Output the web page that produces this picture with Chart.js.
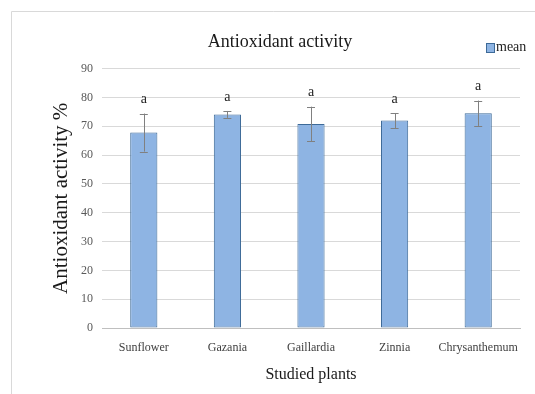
<!DOCTYPE html>
<html>
<head>
<meta charset="utf-8">
<script src="https://cdn.jsdelivr.net/npm/chart.js@4.4.1/dist/chart.umd.min.js"></script>
<style>
  html, body { margin: 0; padding: 0; background: #ffffff; }
  #wrap { position: relative; width: 535px; height: 394px; }
</style>
</head>
<body>
<div id="wrap"><canvas id="chart" width="535" height="394"></canvas></div>
<script>
// Studied plants and their mean antioxidant activity (%)
const plants = ['Sunflower', 'Gazania', 'Gaillardia', 'Zinnia', 'Chrysanthemum'];
const meanActivity = [67.8, 74.1, 70.8, 72.0, 74.5];
const errorActivity = [6.6, 1.2, 6.0, 2.6, 4.4];
const groupLetters = ['a', 'a', 'a', 'a', 'a'];
const seriesName = 'mean';

const FONT = '"Liberation Serif", "Times New Roman", serif';
const BAR_FILL = '#8eb4e3';
const BAR_EDGE = '#3d6a98';

// Light frame around the chart
const framePlugin = {
  id: 'frame',
  beforeDraw(chart) {
    const ctx = chart.ctx;
    ctx.save();
    ctx.strokeStyle = '#d9d9d9';
    ctx.lineWidth = 1;
    ctx.beginPath();
    ctx.moveTo(11.5, 394);
    ctx.lineTo(11.5, 11.5);
    ctx.lineTo(535, 11.5);
    ctx.stroke();
    ctx.restore();
  }
};

// Error whiskers and significance letters, placed through the scales
const errorPlugin = {
  id: 'errorBars',
  afterDatasetsDraw(chart) {
    const ctx = chart.ctx;
    const yScale = chart.scales.y;
    const meta = chart.getDatasetMeta(0);
    ctx.save();
    meta.data.forEach((bar, i) => {
      const x = bar.x;
      const yTop = yScale.getPixelForValue(meanActivity[i] + errorActivity[i]);
      const yBot = yScale.getPixelForValue(meanActivity[i] - errorActivity[i]);
      ctx.strokeStyle = '#808080';
      ctx.lineWidth = 1;
      ctx.beginPath();
      ctx.moveTo(Math.round(x) + 0.5, yTop);
      ctx.lineTo(Math.round(x) + 0.5, yBot);
      ctx.moveTo(x - 4, Math.round(yTop) + 0.5);
      ctx.lineTo(x + 4, Math.round(yTop) + 0.5);
      ctx.moveTo(x - 4, Math.round(yBot) + 0.5);
      ctx.lineTo(x + 4, Math.round(yBot) + 0.5);
      ctx.stroke();

      ctx.fillStyle = '#222222';
      ctx.font = '14px ' + FONT;
      ctx.textAlign = 'center';
      ctx.textBaseline = 'middle';
      ctx.fillText(groupLetters[i], x, yTop - 14);
    });
    ctx.restore();
  }
};

// Legend entry in the upper right corner
const legendPlugin = {
  id: 'cornerLegend',
  afterDraw(chart) {
    const ctx = chart.ctx;
    const ds = chart.data.datasets[0];
    ctx.save();
    ctx.fillStyle = ds.backgroundColor;
    ctx.fillRect(486, 43, 8, 9);
    ctx.strokeStyle = ds.borderColor;
    ctx.lineWidth = 1;
    ctx.strokeRect(486.5, 43.5, 8, 9);
    ctx.fillStyle = '#222222';
    ctx.font = '14px ' + FONT;
    ctx.textAlign = 'left';
    ctx.textBaseline = 'middle';
    ctx.fillText(ds.label, 496, 47);
    ctx.restore();
  }
};

new Chart(document.getElementById('chart'), {
  type: 'bar',
  data: {
    labels: plants,
    datasets: [{
      label: seriesName,
      data: meanActivity,
      backgroundColor: BAR_FILL,
      borderColor: BAR_EDGE,
      borderWidth: 1,
      borderSkipped: false,
      barPercentage: 1,
      categoryPercentage: 0.325
    }]
  },
  options: {
    responsive: false,
    animation: false,
    layout: { padding: { left: 40, right: 15, top: 0, bottom: 0 } },
    plugins: {
      legend: { display: false },
      tooltip: { enabled: false },
      title: {
        display: true,
        text: 'Antioxidant activity',
        color: '#1a1a1a',
        font: { family: FONT, size: 18, weight: 'normal' },
        padding: { top: 31, bottom: 16 }
      }
    },
    scales: {
      x: {
        grid: { display: false, drawTicks: false },
        border: { display: true, color: '#bfbfbf' },
        ticks: {
          color: '#404040',
          font: { family: FONT, size: 12 },
          padding: 13,
          maxRotation: 0
        },
        title: {
          display: true,
          text: 'Studied plants',
          color: '#1a1a1a',
          font: { family: FONT, size: 16 },
          padding: { top: 0, bottom: 10 }
        },
        afterFit(scale) { scale.height = 66; }
      },
      y: {
        min: 0,
        max: 90,
        ticks: {
          stepSize: 10,
          color: '#595959',
          font: { family: FONT, size: 12 },
          padding: 9
        },
        grid: { color: '#d9d9d9', drawTicks: false },
        border: { display: false },
        title: {
          display: true,
          text: 'Antioxidant activity %',
          color: '#1a1a1a',
          font: { family: FONT, size: 21 },
          padding: { top: 9, bottom: 0 }
        },
        afterFit(scale) { scale.width = 62; }
      }
    }
  },
  plugins: [framePlugin, errorPlugin, legendPlugin]
});
</script>
</body>
</html>
